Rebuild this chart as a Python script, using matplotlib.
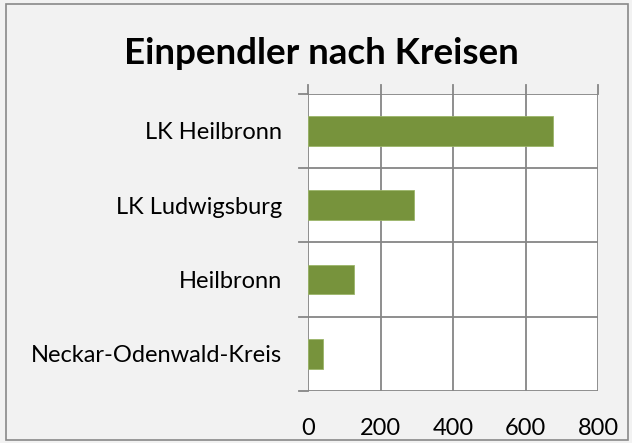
import numpy as np
import matplotlib.pyplot as plt
from matplotlib.patches import Rectangle

# data
kreise = ['Neckar-Odenwald-Kreis', 'Heilbronn', 'LK Ludwigsburg', 'LK Heilbronn']
einpendler = [40, 127, 292, 676]
xticks = [0, 200, 400, 600, 800]

plt.rcParams['font.family'] = ['Lato', 'DejaVu Sans']

fig = plt.figure(figsize=(6.32, 4.43), dpi=100, facecolor='#F2F2F2')
ax = fig.add_axes([308/632, 1 - 391/443, 290/632, (391 - 93.7)/443])
ax.set_facecolor('white')

y = np.arange(len(kreise))
ax.barh(y, einpendler, height=0.4, color='#77933C', edgecolor='#9BB569', linewidth=0.6, zorder=3)

ax.set_xlim(0, 800)
ax.set_ylim(-0.5, len(kreise) - 0.5)

# gridlines: vertical at value ticks, horizontal at category boundaries
grid_c = '#868686'
for v in xticks:
    ax.axvline(v, color=grid_c, lw=1.3, zorder=1)
for b in np.arange(-0.5, len(kreise), 1.0):
    ax.axhline(b, color=grid_c, lw=1.3, zorder=1)

for s in ax.spines.values():
    s.set_visible(False)

ax.set_yticks(y)
ax.set_yticklabels(kreise, fontsize=17)
ax.set_xticks(xticks)
ax.set_xticklabels([str(v) for v in xticks], fontsize=17)
ax.tick_params(axis='x', bottom=False, top=False, pad=16)
ax.tick_params(axis='y', left=False, pad=15)

# tick marks above plot area and left of category axis
for v in xticks:
    ax.plot([v, v], [len(kreise) - 0.5, len(kreise) - 0.5 + 8.5/74.3], color=grid_c, lw=1.3,
            clip_on=False, zorder=1)
for b in np.arange(-0.5, len(kreise), 1.0):
    ax.plot([-9/290*800, 0], [b, b], color=grid_c, lw=1.3, clip_on=False, zorder=1)

fig.text(321/632, 1 - 53/443, 'Einpendler nach Kreisen', ha='center', va='center',
         fontsize=26.5, fontweight='bold')

fig.patches.append(Rectangle((6/632, 3/443), 622/632, 436/443, transform=fig.transFigure,
                             fill=False, edgecolor='#898989', lw=1.2))

fig.savefig('out.png', dpi=100, facecolor=fig.get_facecolor())
